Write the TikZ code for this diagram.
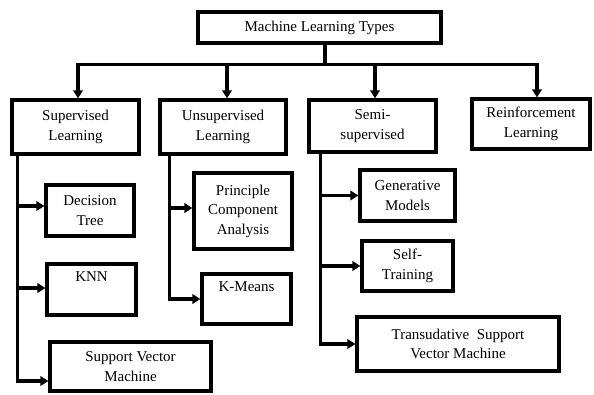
\documentclass[tikz,border=0pt]{standalone}
\usepackage{fontspec}
\setmainfont{Liberation Serif}
\usetikzlibrary{arrows.meta}
\begin{document}
\begin{tikzpicture}[x=1pt,y=-1pt,
  every node/.style={font=\fontsize{15}{19.5}\selectfont},
  bx/.style={draw,line width=3.2pt,rectangle,align=center,inner sep=0pt},
  arr/.style={line width=3.2pt,-{Triangle[length=8pt,width=9.5pt]}},
  ln/.style={line width=3.2pt}]
\useasboundingbox (0,0) rectangle (594,394);
% boxes: centre, width, height
\node[bx,minimum width=243pt,minimum height=31pt] (top) at (319.5,27.5) {Machine Learning Types};
\node[bx,minimum width=127pt,minimum height=54pt] (sup) at (75.5,127) {Supervised\\Learning};
\node[bx,minimum width=126pt,minimum height=54pt] (uns) at (223,127) {Unsupervised\\Learning};
\node[bx,minimum width=127pt,minimum height=52pt] (semi) at (372.5,126) {Semi-\\supervised};
\node[bx,minimum width=118pt,minimum height=50pt] (rein) at (531,124) {Reinforcement\\Learning};
% supervised children
\node[bx,minimum width=88pt,minimum height=51pt] (dt) at (90,210.5) {Decision\\Tree};
\node[bx,minimum width=89pt,minimum height=51pt] (knn) at (91.5,289.5) {KNN\\\strut};
\node[bx,minimum width=161pt,minimum height=49pt] (svm) at (130.5,366.5) {Support Vector\\Machine};
% unsupervised children
\node[bx,minimum width=98pt,minimum height=76pt] (pca) at (243,211) {Principle\\Component\\Analysis};
\node[bx,minimum width=89pt,minimum height=50pt] (km) at (246.5,299) {K-Means\\\strut};
% semi-supervised children
\node[bx,minimum width=95pt,minimum height=51pt] (gm) at (407.5,195.5) {Generative\\Models};
\node[bx,minimum width=91pt,minimum height=50pt] (st) at (407.5,266) {Self-\\Training};
\node[bx,minimum width=202pt,minimum height=54pt] (tsvm) at (458,344) {Transudative\ \ Support\\Vector Machine};
% top-level connectors
\coordinate (trunk) at ([xshift=5.5pt]top.south);
\coordinate (bar) at ([yshift=-19.5pt]trunk);
\draw[ln] (trunk) -- (bar);
\draw[arr] (bar) -| ([xshift=2.5pt]sup.north);
\draw[arr] (bar) -| ([xshift=4pt]uns.north);
\draw[arr] (bar) -| ([xshift=2.5pt]semi.north);
\draw[arr] (bar) -| ([xshift=6pt]rein.north);
% supervised branch
\coordinate (supx) at ([xshift=7pt]sup.south west);
\draw[arr] (supx) |- ([yshift=4.5pt]dt.west);
\draw[arr] (supx) |- ([yshift=1.5pt]knn.west);
\draw[arr] (supx) |- ([yshift=-14.5pt]svm.west);
% unsupervised branch
\coordinate (unsx) at ([xshift=11pt]uns.south west);
\draw[arr] (unsx) |- ([yshift=3pt]pca.west);
\draw[arr] (unsx) |- (km.west);
% semi-supervised branch
\coordinate (semix) at ([xshift=13pt]semi.south west);
\draw[arr] (semix) |- (gm.west);
\draw[arr] (semix) |- (st.west);
\draw[arr] (semix) |- (tsvm.west);
\end{tikzpicture}
\end{document}
